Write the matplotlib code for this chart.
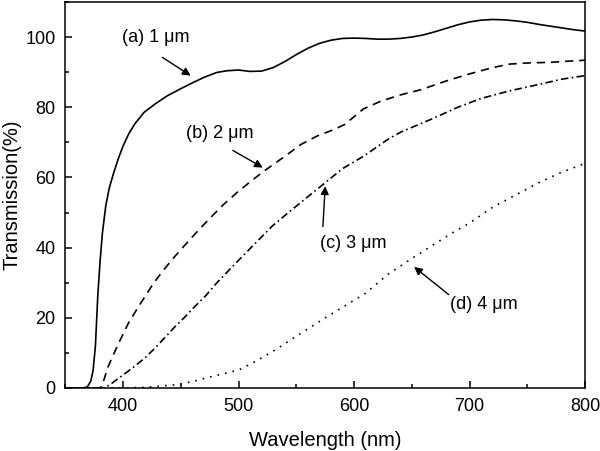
import matplotlib
matplotlib.use("Agg")
import matplotlib.pyplot as plt
from matplotlib.ticker import MultipleLocator

plt.rcParams['font.family'] = ['Liberation Sans', 'DejaVu Sans']

# curve (a) 1 um, solid
wl_a = [350, 365, 369, 372, 374, 376, 378, 380, 382, 385, 388, 392, 396, 400,
        405, 410, 418, 428, 438, 450, 461, 470, 481, 490, 500, 510, 520, 530,
        540, 550, 560, 570, 580, 590, 600, 610, 620, 630, 640, 650, 660, 670,
        680, 690, 700, 710, 720, 730, 740, 750, 760, 770, 780, 790, 800]
tr_a = [0, 0, 0.3, 2, 5, 12, 26, 36, 44, 52, 57, 61.5, 65.5, 69,
        72.5, 75.2, 78.5, 81, 83.2, 85.3, 87.1, 88.5, 89.9, 90.4, 90.6, 90.2, 90.3, 91.3,
        93, 95, 96.8, 98.2, 99.1, 99.6, 99.7, 99.6, 99.4, 99.4, 99.6, 100, 100.6, 101.5,
        102.5, 103.5, 104.3, 104.8, 105, 104.9, 104.6, 104.2, 103.6, 103.1, 102.6, 102.1, 101.7]

# curve (b) 2 um, dashed
wl_b = [350, 379, 381.5, 384, 387, 395, 404.6, 412, 419, 426, 434, 444, 454, 464,
        474, 487, 500, 511, 522, 540, 554, 568, 583, 592, 608, 623, 640, 658,
        680, 700, 720, 735, 750, 770, 800]
tr_b = [0, 0, 0.4, 3, 6.1, 12, 18.5, 22.5, 26.1, 29.7, 33.2, 37.2, 40.9, 44.5,
        48, 52.3, 56.1, 59, 61.8, 66, 69.4, 71.8, 73.7, 75.1, 79.5, 81.7, 83.5, 85,
        87.5, 89.5, 91.3, 92.3, 92.6, 92.8, 93.4]

# curve (c) 3 um, dash-dot
wl_c = [350, 384, 388, 395, 402, 410, 419, 428, 436.5, 445, 454, 462, 471, 481,
        492, 509, 529, 545, 560, 575, 590, 608, 630, 641, 667, 690, 710, 734,
        760, 780, 800]
tr_c = [0, 0, 0.8, 2.5, 4.2, 6.2, 8.6, 11.5, 14.5, 17.5, 20.4, 23.2, 26.1, 29.9,
        33.7, 39.4, 46.1, 50.5, 54.5, 58.5, 62.5, 66, 71, 73, 76.6, 80, 82.5, 84.6,
        86.5, 88, 89]

# curve (d) 4 um, dotted
wl_d = [350, 400, 420, 445, 460, 471, 485, 500, 516, 532, 554, 575, 595, 610,
        629, 650, 684, 700, 720, 740, 760, 780, 800]
tr_d = [0, 0, 0.2, 0.9, 1.8, 2.8, 3.9, 5.1, 7.8, 10.9, 15.6, 20, 24, 27,
        32.3, 36.9, 44, 47, 51.5, 55, 58.5, 61.5, 64]

# annotations: label, text position, arrow tail, arrow head
labels = ['(a) 1 \u03bcm', '(b) 2 \u03bcm', '(c) 3 \u03bcm', '(d) 4 \u03bcm']
text_xy = [(428, 99.9), (484, 72.5), (599, 41.3), (712, 23.7)]
tail_xy = [(434, 94.2), (495, 67.7), (573, 46), (682, 26.6)]
head_xy = [(458.5, 89), (521, 62.8), (575, 57.5), (652, 34.5)]

fig = plt.figure(figsize=(6, 4.51), dpi=100)
ax = fig.add_axes([0.109, 0.1397, 0.866, 0.856])

lw = 1.2
ax.plot(wl_a, tr_a, color='black', lw=lw, linestyle='-')
ax.plot(wl_b, tr_b, color='black', lw=lw, linestyle=(0, (5, 3.5)))
ax.plot(wl_c, tr_c, color='black', lw=lw, linestyle=(0, (4.5, 2, 1, 2)))
ax.plot(wl_d, tr_d, color='black', lw=lw, linestyle=(0, (1, 3.6)))

for lab, t, s, h in zip(labels, text_xy, tail_xy, head_xy):
    ax.text(t[0], t[1], lab, fontsize=13, ha='center', va='center')
    ax.annotate('', xy=h, xytext=s,
                arrowprops=dict(arrowstyle='-|>', color='black', lw=1.0,
                                mutation_scale=12, shrinkA=0, shrinkB=0))

ax.set_xlim(350, 800)
ax.set_ylim(0, 110)
ax.xaxis.set_major_locator(MultipleLocator(100))
ax.xaxis.set_minor_locator(MultipleLocator(50))
ax.yaxis.set_major_locator(MultipleLocator(20))
ax.yaxis.set_minor_locator(MultipleLocator(10))
ax.tick_params(which='both', direction='in', width=1.1, labelsize=13, pad=7)
ax.tick_params(which='major', length=5)
ax.tick_params(which='minor', length=3)
for sp in ax.spines.values():
    sp.set_linewidth(1.1)

ax.set_xlabel('Wavelength (nm)', fontsize=14.5)
ax.set_ylabel('Transmission(%)', fontsize=14.5)
ax.xaxis.set_label_coords(0.5, -0.112)
ax.yaxis.set_label_coords(-0.084, 0.5)

fig.savefig('out.png', dpi=100)
